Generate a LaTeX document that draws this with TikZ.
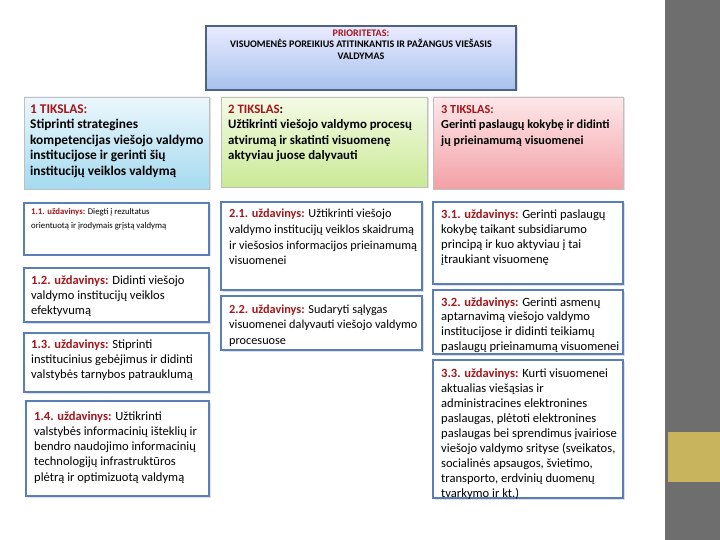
\documentclass[tikz,border=0pt]{standalone}
\usepackage{fontspec}
\setmainfont{Carlito}
\usetikzlibrary{shadows,fit}
\definecolor{lblred}{HTML}{A3171C}
\definecolor{taskblue}{HTML}{5A7FB8}
\definecolor{bandgray}{HTML}{6E6E6E}
\definecolor{goldbox}{HTML}{C8B45C}
\definecolor{topedge}{HTML}{4C6286}
\begin{document}
\begin{tikzpicture}[x=1bp,y=-1bp,
  shad/.style={drop shadow={opacity=0.25,shadow xshift=1.5bp,shadow yshift=-1.5bp}},
  topbox/.style={shad,draw=topedge,line width=1.3bp,top color=blue!8,bottom color={rgb,255:red,166;green,194;blue,236},inner sep=0},
  goalone/.style={shad,draw=black!25,line width=0.6bp,top color={rgb,255:red,236;green,247;blue,252},bottom color={rgb,255:red,165;green,218;blue,240},inner sep=0},
  goaltwo/.style={shad,draw=black!25,line width=0.6bp,top color={rgb,255:red,244;green,250;blue,230},bottom color={rgb,255:red,202;green,234;blue,150},inner sep=0},
  goalthree/.style={shad,draw=black!25,line width=0.6bp,top color={rgb,255:red,253;green,232;blue,234},bottom color={rgb,255:red,243;green,160;blue,166},inner sep=0},
  taskbox/.style={shad,draw=taskblue,line width=1.5bp,fill=white,inner sep=0},
  goaltxt/.style={anchor=north west,align=left,inner sep=0,font=\fontsize{13.4}{15.5}\selectfont\bfseries},
  tasktxt/.style={anchor=north west,align=left,inner sep=0,font=\fontsize{12.6}{15.2}\selectfont},
  smalltxt/.style={anchor=north west,align=left,inner sep=0,font=\fontsize{8.8}{13.8}\selectfont}
]
\useasboundingbox (0,0) rectangle (720,540);
\fill[white] (0,0) rectangle (720,540);
\fill[bandgray] (665,0) rectangle (720,540);
\fill[goldbox] (668,432) rectangle (720,482);

% top priority box
\node[topbox,fit={(206,26) (516,90)}] (prio) {};
\node[anchor=north,align=center,inner sep=0,font=\fontsize{10.1}{11.6}\selectfont\bfseries] (priot) at (361,29.5)
  {\textcolor{lblred}{PRIORITETAS:}\\VISUOMENĖS POREIKIUS ATITINKANTIS IR PAŽANGUS VIEŠASIS\\VALDYMAS};

% goals
\node[goalone,fit={(24,97) (209,189)}] (g1) {};
\node[goaltxt] (g1t) at (30,104.5) {\textcolor{lblred}{1 TIKSLAS:}\\Stiprinti strategines\\kompetencijas viešojo valdymo\\institucijose ir gerinti šių\\institucijų veiklos valdymą};
\node[goaltwo,fit={(221,97) (427,187)}] (g2) {};
\node[goaltxt,font=\fontsize{12.9}{15.5}\selectfont\bfseries] (g2t) at (228,104.5) {\textcolor{lblred}{2 TIKSLAS}:\\Užtikrinti viešojo valdymo procesų\\atvirumą ir skatinti visuomenę\\aktyviau juose dalyvauti};
\node[goalthree,fit={(433,97) (623,189)}] (g3) {};
\node[goaltxt,font=\fontsize{12.3}{15.5}\selectfont\bfseries] (g3t) at (441,105) {\textcolor{lblred}{3 TIKSLAS:}\\Gerinti paslaugų kokybę ir didinti\\jų prieinamumą visuomenei};

% column 1 tasks
\node[taskbox,fit={(24,203) (209,255)}] (t11) {};
\node[smalltxt] (t11t) at (31,208.5) {\textcolor{lblred}{\textbf{1.1. uždavinys:}} Diegti į rezultatus\\orientuotą ir įrodymais grįstą valdymą};
\node[taskbox,fit={(24,268) (209,322)}] (t12) {};
\node[tasktxt] (t12t) at (31,275) {\textcolor{lblred}{\textbf{1.2. uždavinys:}} Didinti viešojo\\valdymo institucijų veiklos\\efektyvumą};
\node[taskbox,fit={(24,333) (209,392)}] (t13) {};
\node[tasktxt] (t13t) at (31,339) {\textcolor{lblred}{\textbf{1.3. uždavinys:}} Stiprinti\\institucinius gebėjimus ir didinti\\valstybės tarnybos patrauklumą};
\node[taskbox,fit={(26,401) (209,496)}] (t14) {};
\node[tasktxt] (t14t) at (34,411.5) {\textcolor{lblred}{\textbf{1.4. uždavinys:}} Užtikrinti\\valstybės informacinių išteklių ir\\bendro naudojimo informacinių\\technologijų infrastruktūros\\plėtrą ir optimizuotą valdymą};

% column 2 tasks
\node[taskbox,fit={(221,202) (422,290)}] (t21) {};
\node[tasktxt,font=\fontsize{12.3}{15.7}\selectfont] (t21t) at (229,209) {\textcolor{lblred}{\textbf{2.1. uždavinys:}} Užtikrinti viešojo\\valdymo institucijų veiklos skaidrumą\\ir viešosios informacijos prieinamumą\\visuomenei};
\node[taskbox,fit={(221,296) (422,350)}] (t22) {};
\node[tasktxt,font=\fontsize{12.3}{15.2}\selectfont] (t22t) at (229,305) {\textcolor{lblred}{\textbf{2.2. uždavinys:}} Sudaryti sąlygas\\visuomenei dalyvauti viešojo valdymo\\procesuose};

% column 3 tasks
\node[taskbox,fit={(433,202) (623,284)}] (t31) {};
\node[tasktxt] (t31t) at (441,209) {\textcolor{lblred}{\textbf{3.1. uždavinys:}} Gerinti paslaugų\\kokybę taikant subsidiarumo\\principą ir kuo aktyviau į tai\\įtraukiant visuomenę};
\node[taskbox,fit={(433,290) (623,354)}] (t32) {};
\node[tasktxt,font=\fontsize{12.6}{14.8}\selectfont] (t32t) at (441,297) {\textcolor{lblred}{\textbf{3.2. uždavinys:}} Gerinti asmenų\\aptarnavimą viešojo valdymo\\institucijose ir didinti teikiamų\\paslaugų prieinamumą visuomenei};
\node[taskbox,fit={(433,360) (623,498)}] (t33) {};
\node[tasktxt,font=\fontsize{12.6}{15.1}\selectfont] (t33t) at (441,368.5) {\textcolor{lblred}{\textbf{3.3. uždavinys:}} Kurti visuomenei\\aktualias viešąsias ir\\administracines elektronines\\paslaugas, plėtoti elektronines\\paslaugas bei sprendimus įvairiose\\viešojo valdymo srityse (sveikatos,\\socialinės apsaugos, švietimo,\\transporto, erdvinių duomenų\\tvarkymo ir kt.)};
\end{tikzpicture}
\end{document}
